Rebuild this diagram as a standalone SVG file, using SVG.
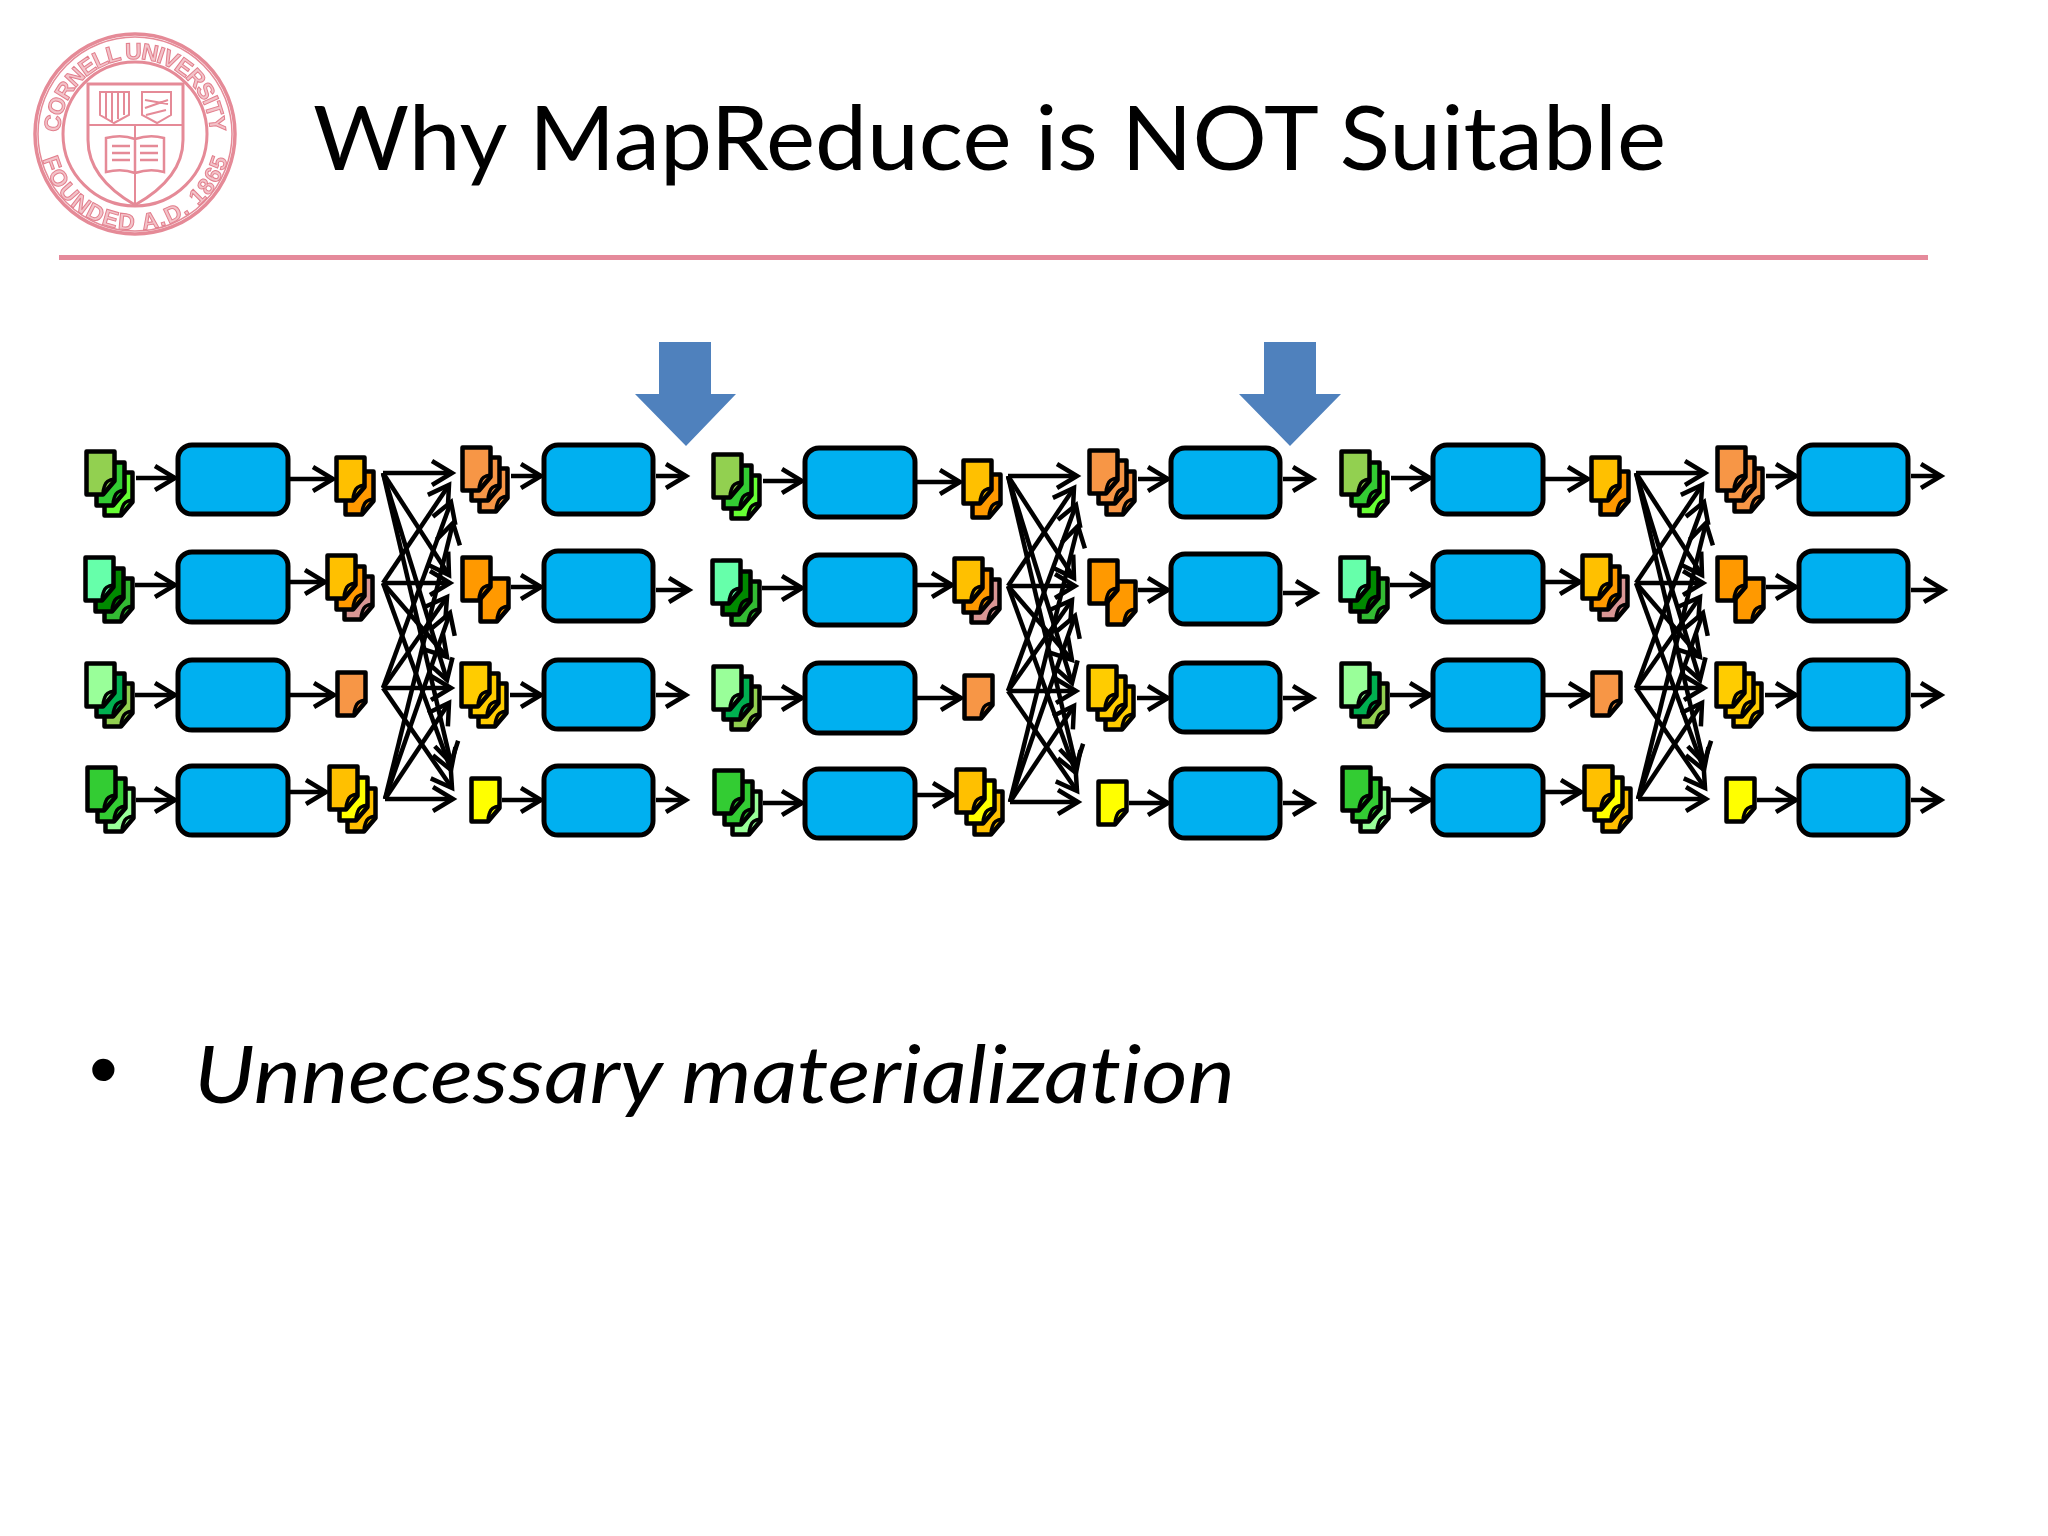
<svg xmlns="http://www.w3.org/2000/svg" width="2048" height="1536" viewBox="0 0 2048 1536">
<style>
.box{fill:#00B0F0;stroke:#000;stroke-width:5}
.c{fill:none;stroke:#000;stroke-width:4.500;marker-end:url(#a)}
.seal{fill:none;stroke:#e58a97}
.st{font-family:"Liberation Sans",sans-serif;font-size:23px;font-weight:bold;fill:#f3c3c9;stroke:#e27f8d;stroke-width:1}
.blue{fill:#4F81BD}
</style>
<defs>
<marker id="a" markerUnits="userSpaceOnUse" markerWidth="30" markerHeight="34" refX="24" refY="17" orient="auto"><path d="M4,5 L24,17 L4,29" fill="none" stroke="#000" stroke-width="4.500"/></marker>
<g id="doc"><path d="M1.500,1.500 H29.500 V31 L18,44.500 H1.500 Z" stroke="#000" stroke-width="4.500" stroke-linejoin="round"/><path d="M29.500,29 Q21,30 19.500,36 Q18,40 18,44.500" fill="none" stroke="#000" stroke-width="3.500"/></g>
<filter id="soft" x="-5%" y="-5%" width="110%" height="110%"><feGaussianBlur stdDeviation="0.7"/></filter>
<path id="top" d="M60,134 A75,75 0 0 1 210,134"/>
<path id="bot" d="M39,134 A96,96 0 0 0 231,134"/>
</defs>
<rect width="2048" height="1536" fill="#fff"/>
<g id="logo" filter="url(#soft)">
<circle class="seal" cx="135" cy="134" r="100" stroke-width="3.500"/>
<circle class="seal" cx="135" cy="134" r="97" stroke-width="1.500"/>
<circle class="seal" cx="135" cy="134" r="72" stroke-width="3"/>
<text class="st"><textPath href="#top" startOffset="50%" text-anchor="middle" textLength="232">CORNELL UNIVERSITY</textPath></text>
<text class="st"><textPath href="#bot" startOffset="50%" text-anchor="middle" textLength="250">FOUNDED A.D. 1865</textPath></text>
<path class="seal" stroke-width="3" d="M88,84 H183 V140 Q183,178 135,205 Q88,178 88,140 Z"/>
<path class="seal" stroke-width="2" d="M88,125 H183 M135,125 V205"/>
<path class="seal" stroke-width="2" d="M100,92 H129 V115 L114,123 L100,115 Z M124,92 V115 M118,92 V119 M112,92 V122 M106,92 V119 M142,92 H171 V115 L157,123 L142,115 Z M145,100 L168,104 M145,108 L168,100 M146,115 L166,110"/>
<path class="seal" stroke-width="2.500" d="M106,138 Q122,134 135,139 Q150,134 164,138 V172 Q150,168 135,173 Q122,168 106,172 Z M135,139 V173 M112,146 H130 M112,153 H130 M112,160 H130 M140,146 H158 M140,153 H158 M140,160 H158"/>
</g>
<g id="title"><text x="313" y="170" font-family="Lato,'Open Sans',sans-serif" font-size="90" textLength="1353" lengthAdjust="spacingAndGlyphs" fill="#000">Why MapReduce is NOT Suitable</text></g>
<path id="rule" d="M59,257.500 H1928" stroke="#e58a9b" stroke-width="5" fill="none"/>
<g id="down-arrow-1"><polygon class="blue" points="659,342 711,342 711,394 736,394 686,446 635,394 659,394"/></g>
<g id="down-arrow-2"><polygon class="blue" points="1264,342 1316,342 1316,394 1341,394 1290,446 1239,394 1264,394"/></g>

<g id="nodes">
<g id="module-1">
<g id="m1-in1"><use href="#doc" x="103" y="471" fill="#66FF33"/><use href="#doc" x="95" y="461" fill="#33CC33"/><use href="#doc" x="85" y="450" fill="#92D050"/></g>
<g id="m1-in2"><use href="#doc" x="103" y="577" fill="#33BB33"/><use href="#doc" x="94" y="567" fill="#008A00"/><use href="#doc" x="84" y="556" fill="#66FFAA"/></g>
<g id="m1-in3"><use href="#doc" x="103" y="682" fill="#92D050"/><use href="#doc" x="95" y="672" fill="#00B050"/><use href="#doc" x="85" y="662" fill="#99FF99"/></g>
<g id="m1-in4"><use href="#doc" x="104" y="787" fill="#99FF99"/><use href="#doc" x="96" y="777" fill="#33CC33"/><use href="#doc" x="86" y="766" fill="#33CC33"/></g>
<g id="m1-map1"><rect class="box" x="178" y="445" width="110" height="69" rx="14"/></g>
<g id="m1-map2"><rect class="box" x="178" y="552" width="110" height="70" rx="14"/></g>
<g id="m1-map3"><rect class="box" x="178" y="660" width="110" height="70" rx="14"/></g>
<g id="m1-map4"><rect class="box" x="178" y="766" width="110" height="69" rx="14"/></g>
<g id="m1-mid1"><use href="#doc" x="344" y="470" fill="#FF9900"/><use href="#doc" x="335" y="456" fill="#FFC000"/></g>
<g id="m1-mid2"><use href="#doc" x="343" y="575" fill="#D99694"/><use href="#doc" x="335" y="565" fill="#FF9900"/><use href="#doc" x="326" y="554" fill="#FFC000"/></g>
<g id="m1-mid3"><use href="#doc" x="336" y="671" fill="#F79646"/></g>
<g id="m1-mid4"><use href="#doc" x="346" y="787" fill="#FFC000"/><use href="#doc" x="338" y="776" fill="#FFFF00"/><use href="#doc" x="328" y="765" fill="#FFC000"/></g>
<g id="m1-sh1"><use href="#doc" x="478" y="467" fill="#F79646"/><use href="#doc" x="470" y="456" fill="#F79646"/><use href="#doc" x="461" y="446" fill="#F79646"/></g>
<g id="m1-sh2"><use href="#doc" x="479" y="577" fill="#FF9900"/><use href="#doc" x="461" y="556" fill="#FF9900"/></g>
<g id="m1-sh3"><use href="#doc" x="477" y="682" fill="#FFCC00"/><use href="#doc" x="469" y="672" fill="#FFCC00"/><use href="#doc" x="460" y="662" fill="#FFCC00"/></g>
<g id="m1-sh4"><use href="#doc" x="470" y="777" fill="#FFFF00"/></g>
<g id="m1-red1"><rect class="box" x="544" y="445" width="109" height="69" rx="14"/></g>
<g id="m1-red2"><rect class="box" x="544" y="551" width="109" height="70" rx="14"/></g>
<g id="m1-red3"><rect class="box" x="544" y="660" width="109" height="69" rx="14"/></g>
<g id="m1-red4"><rect class="box" x="544" y="766" width="109" height="69" rx="14"/></g>
</g>
<g id="module-2" transform="translate(627,3)">
<g id="m2-in1"><use href="#doc" x="103" y="471" fill="#66FF33"/><use href="#doc" x="95" y="461" fill="#33CC33"/><use href="#doc" x="85" y="450" fill="#92D050"/></g>
<g id="m2-in2"><use href="#doc" x="103" y="577" fill="#33BB33"/><use href="#doc" x="94" y="567" fill="#008A00"/><use href="#doc" x="84" y="556" fill="#66FFAA"/></g>
<g id="m2-in3"><use href="#doc" x="103" y="682" fill="#92D050"/><use href="#doc" x="95" y="672" fill="#00B050"/><use href="#doc" x="85" y="662" fill="#99FF99"/></g>
<g id="m2-in4"><use href="#doc" x="104" y="787" fill="#99FF99"/><use href="#doc" x="96" y="777" fill="#33CC33"/><use href="#doc" x="86" y="766" fill="#33CC33"/></g>
<g id="m2-map1"><rect class="box" x="178" y="445" width="110" height="69" rx="14"/></g>
<g id="m2-map2"><rect class="box" x="178" y="552" width="110" height="70" rx="14"/></g>
<g id="m2-map3"><rect class="box" x="178" y="660" width="110" height="70" rx="14"/></g>
<g id="m2-map4"><rect class="box" x="178" y="766" width="110" height="69" rx="14"/></g>
<g id="m2-mid1"><use href="#doc" x="344" y="470" fill="#FF9900"/><use href="#doc" x="335" y="456" fill="#FFC000"/></g>
<g id="m2-mid2"><use href="#doc" x="343" y="575" fill="#D99694"/><use href="#doc" x="335" y="565" fill="#FF9900"/><use href="#doc" x="326" y="554" fill="#FFC000"/></g>
<g id="m2-mid3"><use href="#doc" x="336" y="671" fill="#F79646"/></g>
<g id="m2-mid4"><use href="#doc" x="346" y="787" fill="#FFC000"/><use href="#doc" x="338" y="776" fill="#FFFF00"/><use href="#doc" x="328" y="765" fill="#FFC000"/></g>
<g id="m2-sh1"><use href="#doc" x="478" y="467" fill="#F79646"/><use href="#doc" x="470" y="456" fill="#F79646"/><use href="#doc" x="461" y="446" fill="#F79646"/></g>
<g id="m2-sh2"><use href="#doc" x="479" y="577" fill="#FF9900"/><use href="#doc" x="461" y="556" fill="#FF9900"/></g>
<g id="m2-sh3"><use href="#doc" x="477" y="682" fill="#FFCC00"/><use href="#doc" x="469" y="672" fill="#FFCC00"/><use href="#doc" x="460" y="662" fill="#FFCC00"/></g>
<g id="m2-sh4"><use href="#doc" x="470" y="777" fill="#FFFF00"/></g>
<g id="m2-red1"><rect class="box" x="544" y="445" width="109" height="69" rx="14"/></g>
<g id="m2-red2"><rect class="box" x="544" y="551" width="109" height="70" rx="14"/></g>
<g id="m2-red3"><rect class="box" x="544" y="660" width="109" height="69" rx="14"/></g>
<g id="m2-red4"><rect class="box" x="544" y="766" width="109" height="69" rx="14"/></g>
</g>
<g id="module-3" transform="translate(1255,0)">
<g id="m3-in1"><use href="#doc" x="103" y="471" fill="#66FF33"/><use href="#doc" x="95" y="461" fill="#33CC33"/><use href="#doc" x="85" y="450" fill="#92D050"/></g>
<g id="m3-in2"><use href="#doc" x="103" y="577" fill="#33BB33"/><use href="#doc" x="94" y="567" fill="#008A00"/><use href="#doc" x="84" y="556" fill="#66FFAA"/></g>
<g id="m3-in3"><use href="#doc" x="103" y="682" fill="#92D050"/><use href="#doc" x="95" y="672" fill="#00B050"/><use href="#doc" x="85" y="662" fill="#99FF99"/></g>
<g id="m3-in4"><use href="#doc" x="104" y="787" fill="#99FF99"/><use href="#doc" x="96" y="777" fill="#33CC33"/><use href="#doc" x="86" y="766" fill="#33CC33"/></g>
<g id="m3-map1"><rect class="box" x="178" y="445" width="110" height="69" rx="14"/></g>
<g id="m3-map2"><rect class="box" x="178" y="552" width="110" height="70" rx="14"/></g>
<g id="m3-map3"><rect class="box" x="178" y="660" width="110" height="70" rx="14"/></g>
<g id="m3-map4"><rect class="box" x="178" y="766" width="110" height="69" rx="14"/></g>
<g id="m3-mid1"><use href="#doc" x="344" y="470" fill="#FF9900"/><use href="#doc" x="335" y="456" fill="#FFC000"/></g>
<g id="m3-mid2"><use href="#doc" x="343" y="575" fill="#D99694"/><use href="#doc" x="335" y="565" fill="#FF9900"/><use href="#doc" x="326" y="554" fill="#FFC000"/></g>
<g id="m3-mid3"><use href="#doc" x="336" y="671" fill="#F79646"/></g>
<g id="m3-mid4"><use href="#doc" x="346" y="787" fill="#FFC000"/><use href="#doc" x="338" y="776" fill="#FFFF00"/><use href="#doc" x="328" y="765" fill="#FFC000"/></g>
<g id="m3-sh1"><use href="#doc" x="478" y="467" fill="#F79646"/><use href="#doc" x="470" y="456" fill="#F79646"/><use href="#doc" x="461" y="446" fill="#F79646"/></g>
<g id="m3-sh2"><use href="#doc" x="479" y="577" fill="#FF9900"/><use href="#doc" x="461" y="556" fill="#FF9900"/></g>
<g id="m3-sh3"><use href="#doc" x="477" y="682" fill="#FFCC00"/><use href="#doc" x="469" y="672" fill="#FFCC00"/><use href="#doc" x="460" y="662" fill="#FFCC00"/></g>
<g id="m3-sh4"><use href="#doc" x="470" y="777" fill="#FFFF00"/></g>
<g id="m3-red1"><rect class="box" x="544" y="445" width="109" height="69" rx="14"/></g>
<g id="m3-red2"><rect class="box" x="544" y="551" width="109" height="70" rx="14"/></g>
<g id="m3-red3"><rect class="box" x="544" y="660" width="109" height="69" rx="14"/></g>
<g id="m3-red4"><rect class="box" x="544" y="766" width="109" height="69" rx="14"/></g>
</g>
</g>

<g id="connectors">
<g id="conn-1">
<path class="c" d="M136,478 H175"/><path class="c" d="M135,585 H175"/><path class="c" d="M135,695 H175"/><path class="c" d="M136,800 H175"/>
<path class="c" d="M290,479 H333"/><path class="c" d="M290,582 H325"/><path class="c" d="M290,695 H334"/><path class="c" d="M290,792 H326"/>
<path class="c" d="M511,476 H541"/><path class="c" d="M511,587 H541"/><path class="c" d="M510,695 H541"/><path class="c" d="M502,800 H541"/>
<path class="c" d="M656,476 H686"/><path class="c" d="M656,590 H689"/><path class="c" d="M656,695 H686"/><path class="c" d="M656,800 H686"/>
<path class="c" d="M383,473 H452"/><path class="c" d="M383,473 L449,575"/><path class="c" d="M383,473 L447,680"/><path class="c" d="M383,473 L451,763"/>
<path class="c" d="M383,583 L449,485"/><path class="c" d="M383,583 H450"/><path class="c" d="M383,583 L447,657"/><path class="c" d="M383,583 L451,770"/>
<path class="c" d="M383,688 L451,502"/><path class="c" d="M383,688 L447,597"/><path class="c" d="M383,688 H451"/><path class="c" d="M383,688 L452,788"/>
<path class="c" d="M385,799 L453,523"/><path class="c" d="M385,799 L450,613"/><path class="c" d="M385,799 L449,703"/><path class="c" d="M385,799 H453"/>
</g>
<g id="conn-2" transform="translate(627,3)">
<path class="c" d="M136,478 H175"/><path class="c" d="M135,585 H175"/><path class="c" d="M135,695 H175"/><path class="c" d="M136,800 H175"/>
<path class="c" d="M290,479 H333"/><path class="c" d="M290,582 H325"/><path class="c" d="M290,695 H334"/><path class="c" d="M290,792 H326"/>
<path class="c" d="M511,476 H541"/><path class="c" d="M511,587 H541"/><path class="c" d="M510,695 H541"/><path class="c" d="M502,800 H541"/>
<path class="c" d="M656,476 H686"/><path class="c" d="M656,590 H689"/><path class="c" d="M656,695 H686"/><path class="c" d="M656,800 H686"/>
<g transform="translate(-2,0)">
<path class="c" d="M383,473 H452"/><path class="c" d="M383,473 L449,575"/><path class="c" d="M383,473 L447,680"/><path class="c" d="M383,473 L451,763"/>
<path class="c" d="M383,583 L449,485"/><path class="c" d="M383,583 H450"/><path class="c" d="M383,583 L447,657"/><path class="c" d="M383,583 L451,770"/>
<path class="c" d="M383,688 L451,502"/><path class="c" d="M383,688 L447,597"/><path class="c" d="M383,688 H451"/><path class="c" d="M383,688 L452,788"/>
<path class="c" d="M385,799 L453,523"/><path class="c" d="M385,799 L450,613"/><path class="c" d="M385,799 L449,703"/><path class="c" d="M385,799 H453"/>
</g>
</g>
<g id="conn-3" transform="translate(1255,0)">
<path class="c" d="M136,478 H175"/><path class="c" d="M135,585 H175"/><path class="c" d="M135,695 H175"/><path class="c" d="M136,800 H175"/>
<path class="c" d="M290,479 H333"/><path class="c" d="M290,582 H325"/><path class="c" d="M290,695 H334"/><path class="c" d="M290,792 H326"/>
<path class="c" d="M511,476 H541"/><path class="c" d="M511,587 H541"/><path class="c" d="M510,695 H541"/><path class="c" d="M502,800 H541"/>
<path class="c" d="M656,476 H686"/><path class="c" d="M656,590 H689"/><path class="c" d="M656,695 H686"/><path class="c" d="M656,800 H686"/>
<g transform="translate(-2,0)">
<path class="c" d="M383,473 H452"/><path class="c" d="M383,473 L449,575"/><path class="c" d="M383,473 L447,680"/><path class="c" d="M383,473 L451,763"/>
<path class="c" d="M383,583 L449,485"/><path class="c" d="M383,583 H450"/><path class="c" d="M383,583 L447,657"/><path class="c" d="M383,583 L451,770"/>
<path class="c" d="M383,688 L451,502"/><path class="c" d="M383,688 L447,597"/><path class="c" d="M383,688 H451"/><path class="c" d="M383,688 L452,788"/>
<path class="c" d="M385,799 L453,523"/><path class="c" d="M385,799 L450,613"/><path class="c" d="M385,799 L449,703"/><path class="c" d="M385,799 H453"/>
</g>
</g>
</g>

<g id="bullet">
<text x="89" y="1097" font-family="'Liberation Sans',sans-serif" font-size="82" fill="#000">•</text>
<text x="194" y="1103" font-family="Lato,'Open Sans',sans-serif" font-style="italic" font-size="80" textLength="1041" lengthAdjust="spacingAndGlyphs" style="font-variant-ligatures:none" fill="#000">Unnecessary materialization</text>
</g>
</svg>
